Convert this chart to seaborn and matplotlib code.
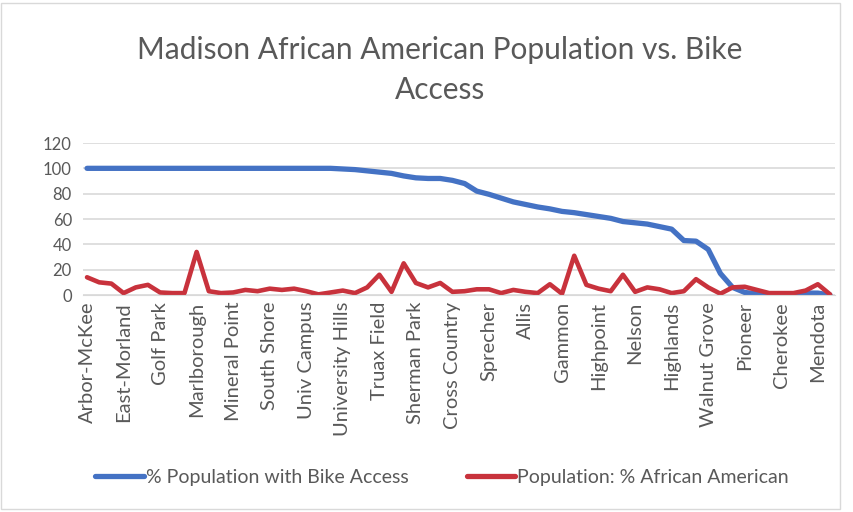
import matplotlib
matplotlib.use("Agg")
import matplotlib.pyplot as plt
import seaborn as sns
import pandas as pd
import numpy as np
from matplotlib.patches import Rectangle
from matplotlib.lines import Line2D

# ---- data (62 neighborhoods, every 3rd labelled) ----
tick_labels = ["Arbor-McKee", "East-Morland", "Golf Park", "Marlborough", "Mineral Point",
               "South Shore", "Univ Campus", "University Hills", "Truax Field", "Sherman Park",
               "Cross Country", "Sprecher", "Allis", "Gammon", "Highpoint", "Nelson",
               "Highlands", "Walnut Grove", "Pioneer", "Cherokee", "Mendota"]

bike_access = [100, 100, 100, 100, 100, 100, 100, 100, 100, 100,
               100, 100, 100, 100, 100, 100, 100, 100, 100, 100,
               100, 99.5, 99, 98, 97, 96, 94, 92.5, 92, 92,
               90.5, 88, 82, 79.5, 76.5, 73.5, 71.5, 69.5, 68, 66,
               65, 63.5, 62, 60.5, 58, 57, 56, 54, 52, 43,
               42.5, 36, 17, 6, 2, 1, 0.5, 0.5, 0.5, 1.5,
               1.5, 0]

african_american = [14, 10, 9, 1.5, 6, 8, 2, 1.5, 1.5, 34,
                    3, 1.5, 2, 4, 3, 5, 4, 5, 3, 0.5,
                    2, 3.5, 1.5, 6, 16, 2.5, 25, 9.5, 6, 9.5,
                    2.5, 3, 4.5, 4.5, 1.5, 4, 2.5, 1.5, 8.5, 1,
                    31, 8, 5, 3, 16, 2.5, 6, 4.5, 1.5, 3,
                    12.5, 6, 1, 6, 6.5, 4, 1.5, 1.5, 1.5, 3.5,
                    8.5, 0.5]

series_names = ["% Population with Bike Access", "Population: % African American"]
colors = ["#4472C4", "#C8323C"]

n = len(bike_access)
df = pd.DataFrame({
    "idx": list(range(n)) * 2,
    "value": bike_access + african_american,
    "series": [series_names[0]] * n + [series_names[1]] * n,
})

sns.set_style("white")
plt.rcParams["font.family"] = ["Lato", "DejaVu Sans"]
grey = "#595959"

fig = plt.figure(figsize=(8.54, 5.12), dpi=100)
ax = fig.add_axes([83/854, 1 - 295/512, (835 - 83)/854, (295 - 143)/512])

sns.lineplot(data=df, x="idx", y="value", hue="series", palette=colors,
             linewidth=3.8, ax=ax, legend=False, sort=False)
for ln in ax.lines:
    ln.set_solid_capstyle("round")
    ln.set_solid_joinstyle("round")
ax.lines[1].set_linewidth(3.3)

ax.set_ylim(0, 120)
ax.set_yticks(range(0, 121, 20))
ax.set_xlim(-0.33, n - 1 + 0.41)
ax.set_xticks(range(0, n, 3))
ax.set_xticklabels(tick_labels, rotation=90, fontsize=14.5, color=grey)
ax.tick_params(axis="y", labelsize=12, labelcolor=grey, length=0, pad=8)
ax.tick_params(axis="x", length=0, pad=5)
ax.grid(axis="y", color="#d9d9d9", linewidth=1.2)
ax.set_axisbelow(True)
for s in ["top", "right", "left"]:
    ax.spines[s].set_visible(False)
ax.spines["bottom"].set_color("#d9d9d9")
ax.set_xlabel("")
ax.set_ylabel("")

fig.text(440/854, 1 - 50/512, "Madison African American Population vs. Bike",
         ha="center", va="center", fontsize=21.5, color=grey)
fig.text(440/854, 1 - 90/512, "Access", ha="center", va="center", fontsize=21.5, color=grey)

handles = [Line2D([0], [0], color=c, lw=3.8) for c in colors]
fig.legend(handles, series_names, loc="center", bbox_to_anchor=(442/854, 1 - 477/512),
           ncol=2, frameon=False, fontsize=14, handlelength=2.5, handletextpad=0.1,
           columnspacing=3, labelcolor=grey)

fig.patches.append(Rectangle((1/854, 3/512), 839/854, 506/512, transform=fig.transFigure,
                             fill=False, edgecolor="#d9d9d9", linewidth=1))

fig.savefig("out.png", dpi=100)
